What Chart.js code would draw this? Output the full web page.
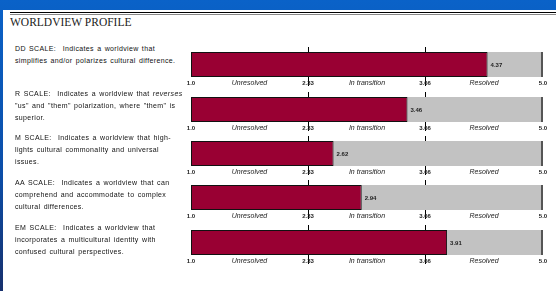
<!DOCTYPE html>
<html>
<head>
<meta charset="utf-8">
<script src="https://cdn.jsdelivr.net/npm/chart.js@4"></script>
<style>
  body { margin: 0; width: 556px; height: 291px; overflow: hidden;
         background: linear-gradient(#0a62c8, #0c4ea8 60%, #17306c); position: relative; }
  #panel { position: absolute; left: 3px; top: 10px; width: 553px; height: 281px; background: #fff; }
  #rule { position: absolute; left: 10px; top: 12px; width: 546px; height: 1px;
          border-top: 1px solid #000; border-bottom: 1px solid #888; }
  #title { position: absolute; left: 10px; top: 16px; font: 11.5px "Liberation Serif", serif; color: #222; }
  .desc { position: absolute; left: 15px; width: 175px; font: 7px "Liberation Sans", Arial, sans-serif;
          line-height: 12px; color: #111; letter-spacing: 0.35px; word-spacing: 1px; }
  canvas.bar { position: absolute; }
</style>
</head>
<body>
<div id="panel"></div>
<div id="rule"></div>
<div id="title">WORLDVIEW PROFILE</div>
<div id="box"></div>
<script>
// data
const scaleNames = ["DD", "R", "M", "AA", "EM"];
const scores = [4.37, 3.46, 2.62, 2.94, 3.91];
const descriptions = [
  "DD SCALE:&nbsp; Indicates a worldview that<br>simplifies and/or polarizes cultural difference.",
  "R SCALE:&nbsp; Indicates a worldview that <i>reverses</i><br>\"us\" and \"them\" polarization, where \"them\" is<br>superior.",
  "M SCALE:&nbsp; Indicates a worldview that high-<br>lights cultural commonality and universal<br>issues.",
  "AA SCALE:&nbsp; Indicates a worldview that can<br>comprehend and accommodate to complex<br>cultural differences.",
  "EM SCALE:&nbsp; Indicates a worldview that<br>incorporates a multicultural identity with<br>confused cultural perspectives."
];
const tickValues = [1.0, 1.665, 2.33, 3.0, 3.66, 4.33, 5.0];
const tickLabels = ["1.0", "Unresolved", "2.33", "In transition", "3.66", "Resolved", "5.0"];
const zoneLines = [2.33, 3.66];
const scaleMin = 1.0;
const scaleMax = 5.0;

const barTops = [52, 96.5, 140.5, 185, 229.5];
const descTops = [43, 88, 132, 177, 222];

// value text at the end of the red bar
const valueLabel = {
  id: "valueLabel",
  afterDatasetsDraw(chart) {
    const ctx = chart.ctx;
    const bar = chart.getDatasetMeta(0).data[0];
    ctx.save();
    ctx.font = "bold 6px 'Liberation Sans', Arial, sans-serif";
    ctx.fillStyle = "#222";
    ctx.textBaseline = "middle";
    ctx.fillText(chart.data.datasets[0].data[0][1].toFixed(2), bar.x + 3, bar.y + 1);
    ctx.restore();
  }
};

const box = document.getElementById("box");
for (let i = 0; i < scaleNames.length; i++) {
  const d = document.createElement("div");
  d.className = "desc";
  d.style.top = descTops[i] + "px";
  d.innerHTML = descriptions[i];
  box.appendChild(d);

  const c = document.createElement("canvas");
  c.className = "bar";
  c.width = 372; c.height = 60;
  c.style.left = "181px";
  c.style.top = (barTops[i] - 10) + "px";
  c.style.width = "372px"; c.style.height = "60px";
  box.appendChild(c);

  new Chart(c.getContext("2d"), {
    type: "bar",
    data: {
      labels: [scaleNames[i]],
      datasets: [
        {
          data: [[scaleMin, scores[i]]],
          backgroundColor: "#990033",
          borderColor: "#111",
          borderWidth: 1,
          borderSkipped: false,
          maxBarThickness: 25,
          grouped: false,
          order: 0,
        },
        {
          data: [[scaleMin, scaleMax]],
          backgroundColor: "#c2c2c2",
          borderColor: "#555",
          borderWidth: { top: 0, left: 0, bottom: 0, right: 2 },
          borderSkipped: false,
          maxBarThickness: 25,
          grouped: false,
          order: 1,
        },
      ],
    },
    options: {
      indexAxis: "y",
      responsive: false,
      animation: false,
      layout: { padding: { left: 10, right: 10, top: 5, bottom: 0 } },
      plugins: { legend: { display: false }, tooltip: { enabled: false } },
      scales: {
        y: { display: false },
        x: {
          min: scaleMin,
          max: scaleMax,
          z: 1,
          border: { display: false },
          afterBuildTicks: (s) => { s.ticks = tickValues.map((v) => ({ value: v })); },
          afterFit: (s) => { s.height = 20; },
          grid: {
            drawTicks: true,
            tickLength: 4,
            lineWidth: 1,
            color: (ctx) => (ctx.tick && zoneLines.includes(ctx.tick.value) ? "#000" : "rgba(0,0,0,0)"),
          },
          ticks: {
            autoSkip: false,
            maxRotation: 0,
            mirror: true,
            padding: -5,
            color: "#222",
            font: (ctx) => (ctx.index % 2 === 1
              ? { family: "'Liberation Sans', Arial, sans-serif", size: 7, style: "italic" }
              : { family: "'Liberation Sans', Arial, sans-serif", size: 6, weight: "bold" }),
            callback: (v, idx) => tickLabels[idx],
          },
        },
      },
    },
    plugins: [valueLabel],
  });
}
</script>
</body>
</html>
